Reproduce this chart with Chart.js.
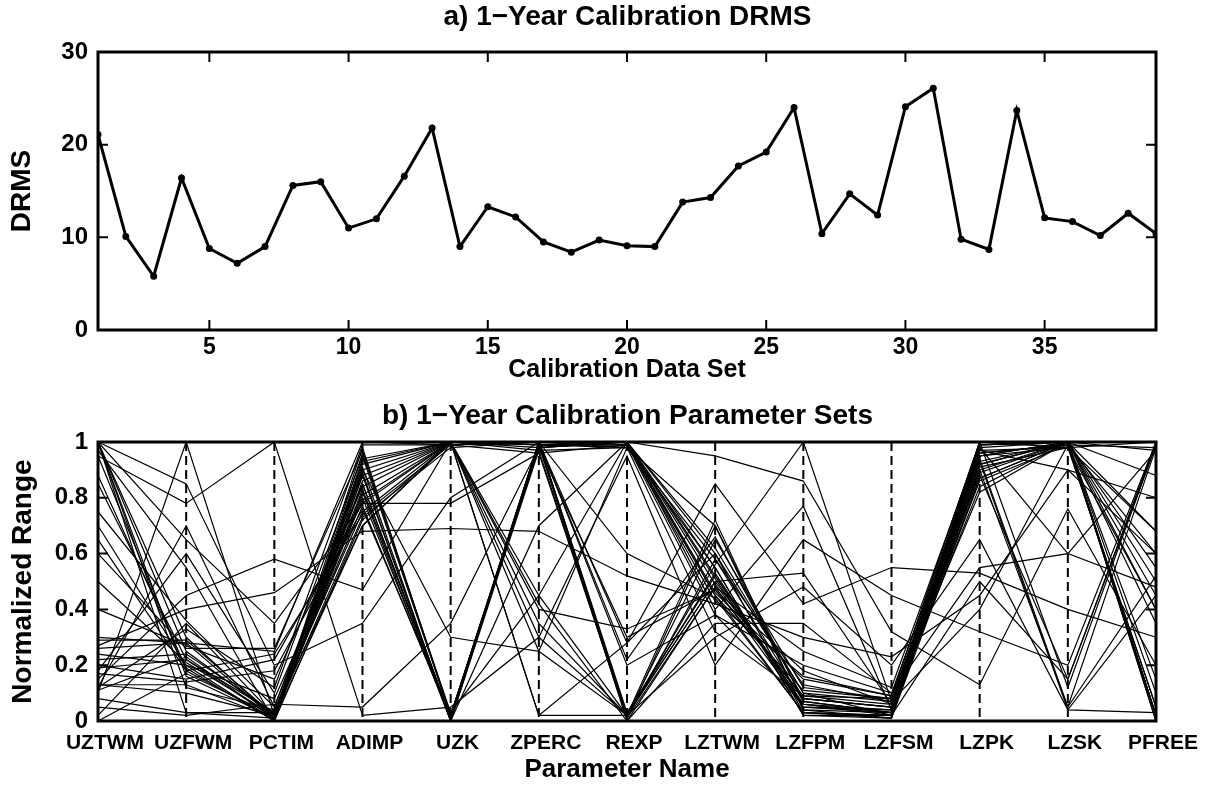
<!DOCTYPE html>
<html>
<head>
<meta charset="utf-8">
<script src="https://cdn.jsdelivr.net/npm/chart.js@4.4.1/dist/chart.umd.min.js"></script>
<style>
  body { margin: 0; background: #fff; font-family: 'Liberation Sans', Arial, sans-serif; }
  .panel { position: absolute; left: 0; width: 1217px; }
  .title { position: absolute; left: 98px; width: 1059px; text-align: center; font-weight: bold; font-size: 28px; line-height: 32px; color: #000; }
</style>
</head>
<body>
<div class="panel" style="top:0;height:390px"><canvas id="drmsChart"></canvas></div>
<div class="panel" style="top:390px;height:395px"><canvas id="paramChart"></canvas></div>
<div class="title" style="top:0px">a) 1−Year Calibration DRMS</div>
<div class="title" style="top:399px">b) 1−Year Calibration Parameter Sets</div>
<script>
'use strict';

// panel a
const dataSetNo = [];
for (let i = 1; i <= 39; i++) dataSetNo.push(i);
const drms = [21.1, 10.1, 5.8, 16.4, 8.8, 7.2, 9.0, 15.6, 16.0, 11.0,
              12.0, 16.6, 21.8, 9.0, 13.3, 12.2, 9.5, 8.4, 9.7, 9.1,
              9.0, 13.8, 14.3, 17.7, 19.2, 24.0, 10.4, 14.7, 12.4, 24.1,
              26.1, 9.8, 8.7, 23.7, 12.1, 11.7, 10.2, 12.6, 10.4];
const drmsXTicks = [5, 10, 15, 20, 25, 30, 35];

// panel b
const paramNames = ['UZTWM', 'UZFWM', 'PCTIM', 'ADIMP', 'UZK', 'ZPERC', 'REXP',
                    'LZTWM', 'LZFPM', 'LZFSM', 'LZPK', 'LZSK', 'PFREE'];
const paramSets = [
  [1.00, 0.25, 0.02, 0.92, 1.00, 1.00, 0.01, 0.48, 0.05, 0.03, 0.95, 1.00, 0.02],
  [0.12, 0.70, 0.05, 0.85, 0.01, 0.98, 1.00, 0.60, 0.10, 0.02, 0.90, 0.05, 0.98],
  [0.20, 0.15, 0.22, 0.78, 1.00, 0.45, 0.02, 0.50, 0.08, 0.05, 0.98, 1.00, 0.50],
  [1.00, 0.30, 0.01, 0.98, 0.02, 1.00, 1.00, 0.45, 0.03, 0.01, 1.00, 0.98, 0.05],
  [0.85, 0.22, 0.03, 0.70, 1.00, 0.99, 0.02, 0.65, 0.12, 0.08, 0.88, 0.15, 1.00],
  [0.10, 1.00, 0.02, 0.90, 0.30, 0.25, 0.98, 0.55, 0.02, 0.02, 0.92, 1.00, 0.40],
  [0.30, 0.28, 0.25, 1.00, 0.99, 1.00, 0.20, 0.38, 0.20, 0.10, 0.55, 0.60, 0.97],
  [0.95, 0.18, 0.01, 0.82, 0.00, 0.70, 1.00, 0.52, 0.06, 0.04, 0.99, 1.00, 0.02],
  [0.15, 0.45, 0.58, 0.47, 1.00, 0.02, 0.28, 0.85, 0.42, 0.55, 0.53, 0.40, 0.30],
  [0.05, 0.02, 0.06, 0.05, 0.35, 0.98, 1.00, 0.95, 0.86, 0.32, 0.13, 0.76, 0.20],
  [1.00, 0.85, 0.20, 0.35, 0.80, 1.00, 0.02, 0.30, 0.48, 0.20, 0.65, 0.04, 0.03],
  [0.70, 0.20, 0.00, 0.88, 1.00, 0.40, 0.33, 0.47, 0.09, 0.06, 0.96, 0.99, 0.60],
  [0.18, 0.60, 0.10, 0.95, 0.02, 0.99, 0.98, 0.70, 0.04, 0.01, 0.87, 1.00, 0.00],
  [0.27, 0.40, 0.46, 0.68, 0.69, 0.68, 0.52, 0.42, 0.30, 0.23, 0.45, 0.90, 0.80],
  [1.00, 0.12, 0.04, 0.75, 1.00, 0.97, 0.01, 0.58, 0.07, 0.03, 0.93, 1.00, 0.45],
  [0.08, 0.03, 0.01, 0.80, 0.01, 1.00, 1.00, 0.46, 0.15, 0.09, 1.00, 0.12, 0.99],
  [0.40, 0.27, 0.15, 0.84, 1.00, 0.35, 0.02, 0.53, 0.05, 0.04, 0.89, 1.00, 0.10],
  [0.95, 0.78, 1.00, 0.02, 0.05, 0.30, 0.95, 0.20, 0.65, 0.45, 0.32, 0.20, 1.00],
  [0.00, 0.17, 0.02, 0.73, 0.98, 1.00, 0.60, 0.44, 0.03, 0.02, 0.97, 0.98, 0.68],
  [0.60, 0.26, 0.26, 0.97, 0.02, 0.99, 1.00, 0.62, 0.10, 0.07, 0.82, 1.00, 0.02],
  [0.13, 0.13, 0.01, 0.86, 1.00, 0.02, 0.02, 0.50, 0.53, 0.06, 0.94, 0.05, 0.52],
  [1.00, 0.65, 0.35, 0.78, 0.78, 0.96, 0.99, 0.38, 0.06, 0.03, 1.00, 1.00, 0.97],
  [0.22, 0.24, 0.03, 0.91, 0.00, 1.00, 0.22, 0.66, 0.08, 0.05, 0.86, 0.99, 0.05],
  [0.88, 0.19, 0.00, 0.72, 1.00, 0.42, 0.00, 0.48, 0.25, 0.12, 0.99, 1.00, 0.35],
  [0.12, 0.33, 0.12, 0.99, 0.99, 1.00, 1.00, 0.55, 0.02, 0.01, 0.91, 0.98, 1.00],
  [0.50, 0.21, 0.02, 0.83, 0.02, 0.99, 0.99, 0.45, 0.11, 0.08, 0.95, 1.00, 0.00],
  [1.00, 0.16, 0.01, 0.93, 1.00, 0.25, 0.02, 0.72, 0.04, 0.03, 0.98, 0.60, 0.48],
  [0.17, 0.14, 0.18, 0.76, 0.02, 0.98, 1.00, 0.40, 0.77, 0.04, 0.90, 1.00, 0.68],
  [0.29, 0.29, 0.02, 0.81, 1.00, 1.00, 0.03, 0.52, 0.06, 0.02, 0.50, 0.15, 0.99],
  [0.75, 0.36, 0.05, 0.89, 0.00, 0.97, 0.98, 0.58, 0.13, 0.07, 0.99, 1.00, 0.55],
  [0.11, 0.23, 0.01, 0.70, 1.00, 0.99, 0.00, 0.35, 0.35, 0.10, 0.96, 0.99, 0.02],
  [0.97, 0.55, 0.00, 0.96, 0.03, 0.45, 1.00, 0.49, 0.08, 0.05, 0.87, 1.00, 0.88],
  [0.24, 0.20, 0.08, 0.79, 1.00, 1.00, 0.28, 0.60, 0.03, 0.02, 0.93, 0.04, 0.45],
  [0.13, 0.10, 0.02, 0.88, 0.01, 0.99, 0.99, 0.43, 0.16, 0.09, 1.00, 1.00, 1.00],
  [0.65, 0.18, 0.24, 0.74, 0.99, 0.96, 0.01, 0.70, 0.07, 0.03, 0.95, 0.98, 0.40],
  [0.19, 0.22, 0.01, 0.85, 0.00, 1.00, 1.00, 0.51, 0.05, 0.04, 0.84, 1.00, 0.02],
  [0.02, 0.35, 0.02, 0.90, 1.00, 0.98, 0.30, 0.47, 0.18, 0.06, 0.97, 0.90, 0.60],
  [1.00, 0.03, 0.03, 0.77, 0.01, 1.00, 0.98, 0.32, 0.09, 0.08, 0.92, 1.00, 0.15],
  [0.26, 0.28, 0.01, 0.94, 1.00, 0.30, 0.02, 0.56, 1.00, 0.07, 0.40, 0.99, 0.98]
];

Chart.defaults.font.family = "'Liberation Sans', Arial, sans-serif";
Chart.defaults.font.weight = 'bold';
Chart.defaults.color = '#000';

// box round the plot, inward ticks, dashed parameter axes
const framePlugin = {
    id: 'frame',
    beforeDatasetsDraw(chart, args, opts) {
        if (!opts.dashed) return;
        const {ctx, chartArea: a, scales} = chart;
        ctx.save();
        ctx.strokeStyle = '#000';
        ctx.lineWidth = 2;
        ctx.setLineDash([9, 5]);
        const n = scales.x.ticks.length;
        for (let i = 1; i < n - 1; i++) {
            let x = scales.x.getPixelForTick(i);
            ctx.beginPath();
            ctx.moveTo(x, a.top);
            ctx.lineTo(x, a.bottom);
            ctx.stroke();
        }
        ctx.restore();
    },
    afterDraw(chart, args, opts) {
        const {ctx, chartArea: a, scales} = chart;
        const len = 10;
        ctx.save();
        ctx.strokeStyle = '#000';
        ctx.lineWidth = 2;
        scales.y.ticks.forEach((t, i) => {
            let y = scales.y.getPixelForTick(i);
            ctx.beginPath();
            ctx.moveTo(a.left, y); ctx.lineTo(a.left + len, y);
            ctx.moveTo(a.right, y); ctx.lineTo(a.right - len, y);
            ctx.stroke();
        });
        if (opts.xTicks) {
            scales.x.ticks.forEach((t, i) => {
                let x = scales.x.getPixelForTick(i);
                ctx.beginPath();
                ctx.moveTo(x, a.bottom); ctx.lineTo(x, a.bottom - len);
                ctx.moveTo(x, a.top); ctx.lineTo(x, a.top + len);
                ctx.stroke();
            });
        }
        ctx.lineWidth = 3;
        ctx.strokeRect(a.left, a.top, a.right - a.left, a.bottom - a.top);
        ctx.restore();
    }
};

new Chart('drmsChart', {
    type: 'line',
    data: {
        datasets: [{
            data: dataSetNo.map((n, i) => ({x: n, y: drms[i]})),
            borderColor: '#000',
            borderWidth: 3,
            pointRadius: 3.5,
            pointBackgroundColor: '#000',
            pointBorderWidth: 0
        }]
    },
    options: {
        animation: false,
        responsive: true,
        maintainAspectRatio: false,
        layout: {padding: {left: 0, right: 61, top: 52, bottom: 0}},
        plugins: {
            legend: {display: false},
            tooltip: {enabled: false},
            frame: {xTicks: true}
        },
        scales: {
            x: {
                type: 'linear', min: 1, max: 39,
                afterBuildTicks: s => { s.ticks = drmsXTicks.map(v => ({value: v})); },
                afterFit: s => { s.height = 60; },
                grid: {display: false, drawTicks: false},
                border: {display: false},
                ticks: {font: {size: 23}, padding: 4},
                title: {display: true, text: 'Calibration Data Set', font: {size: 25}, padding: {top: 0, bottom: 5}}
            },
            y: {
                min: 0, max: 30,
                afterFit: s => { s.width = 98; },
                grid: {display: false, drawTicks: false},
                border: {display: false},
                ticks: {stepSize: 10, font: {size: 24}, padding: 10},
                title: {display: true, text: 'DRMS', font: {size: 28}, padding: {top: 5, bottom: 0}}
            }
        }
    },
    plugins: [framePlugin]
});

new Chart('paramChart', {
    type: 'line',
    data: {
        labels: paramNames,
        datasets: paramSets.map(row => ({
            data: row,
            borderColor: '#000',
            borderWidth: 1.2,
            pointRadius: 0
        }))
    },
    options: {
        animation: false,
        responsive: true,
        maintainAspectRatio: false,
        layout: {padding: {left: 0, right: 61, top: 52, bottom: 0}},
        plugins: {
            legend: {display: false},
            tooltip: {enabled: false},
            frame: {dashed: true}
        },
        scales: {
            x: {
                offset: false,
                afterFit: s => { s.height = 64; },
                grid: {display: false, drawTicks: false},
                border: {display: false},
                ticks: {font: {size: 21}, padding: 10, labelOffset: 7, autoSkip: false, maxRotation: 0},
                title: {display: true, text: 'Parameter Name', font: {size: 26}, padding: {top: 0, bottom: 0}}
            },
            y: {
                min: 0, max: 1,
                afterFit: s => { s.width = 98; },
                grid: {display: false, drawTicks: false},
                border: {display: false},
                ticks: {stepSize: 0.2, font: {size: 24}, padding: 10, callback: v => String(+v.toFixed(1))},
                title: {display: true, text: 'Normalized Range', font: {size: 28}, padding: {top: 6, bottom: 0}}
            }
        }
    },
    plugins: [framePlugin]
});
</script>
</body>
</html>
